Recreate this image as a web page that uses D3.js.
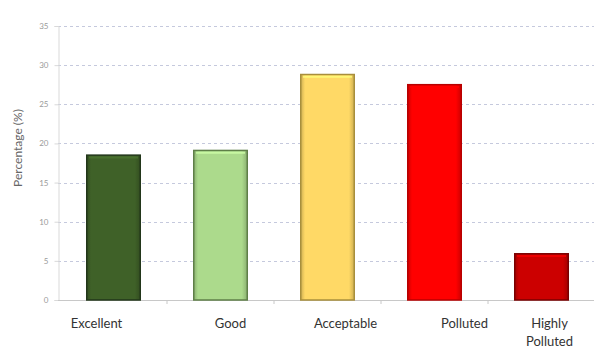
<!DOCTYPE html>
<html><head><meta charset="utf-8">
<script src="https://cdn.jsdelivr.net/npm/d3@7"></script>
<style>
html,body{margin:0;padding:0;background:#fff;}
svg{display:block;}
</style></head>
<body>
<svg id="c" width="594" height="348"></svg>
<script>
const categories = ["Excellent", "Good", "Acceptable", "Polluted", "Highly Polluted"];
const values = [18.6, 19.2, 28.9, 27.6, 6.0];
const yTicks = [0, 5, 10, 15, 20, 25, 30, 35];
const barColors = ["#3f6128", "#acda8c", "#ffd966", "#ff0000", "#cc0000"];
const edgeColors = ["#22361a", "#5f7f48", "#a88f3c", "#b80000", "#7a0000"];
// label horizontal shifts (layout)
const labelShift = [-17, 10, 18, 30, 8];

const svg = d3.select("#c");
const margin = {left: 58, right: 0, top: 26, bottom: 48};
const W = 594, H = 348;
const x = d3.scaleBand().domain(categories).range([60, 595]).paddingInner(0.486).paddingOuter(0.243);
const y = d3.scaleLinear().domain([0, 35]).range([300, 26]);

const defs = svg.append("defs");
barColors.forEach((c, i) => {
  const g = defs.append("linearGradient").attr("id", "g" + i).attr("x1", 0).attr("x2", 1).attr("y1", 0).attr("y2", 0);
  const dk = d3.color(c).darker(0.6).formatHex();
  g.append("stop").attr("offset", "0%").attr("stop-color", dk);
  g.append("stop").attr("offset", "8%").attr("stop-color", c);
  g.append("stop").attr("offset", "90%").attr("stop-color", c);
  g.append("stop").attr("offset", "100%").attr("stop-color", dk);
});

// gridlines
svg.append("g").selectAll("line").data(yTicks.filter(t => t > 0)).join("line")
  .attr("x1", 58).attr("x2", 594)
  .attr("y1", d => Math.round(y(d)) + 0.5).attr("y2", d => Math.round(y(d)) + 0.5)
  .attr("stroke", "#c5c9dd").attr("stroke-width", 1).attr("stroke-dasharray", "3,3");

// y axis
const yAxis = d3.axisLeft(y).tickValues(yTicks).tickSize(4).tickPadding(6);
const ya = svg.append("g").attr("transform", "translate(58.5,0)").call(yAxis);
ya.select(".domain").attr("stroke", "#d9d9d9");
ya.selectAll(".tick line").attr("stroke", "#d9d9d9");
ya.selectAll(".tick text").attr("fill", "#9a9a9a").style("font-family", "Lato, 'Open Sans', sans-serif").style("font-size", "8px");

// x baseline + ticks at category boundaries
svg.append("line").attr("x1", 58).attr("x2", 594).attr("y1", 300.5).attr("y2", 300.5).attr("stroke", "#c8c8c8");
const bounds = categories.slice(1).map(c => x(c) - x.step() * x.paddingInner() / 2);
svg.append("g").selectAll("line").data(bounds).join("line")
  .attr("x1", d => d).attr("x2", d => d).attr("y1", 300).attr("y2", 304)
  .attr("stroke", "#c8c8c8");

// bars
const bars = svg.append("g").selectAll("g").data(values).join("g");
bars.append("rect")
  .attr("x", (d, i) => x(categories[i]) + 0.75)
  .attr("y", d => y(d) + 0.75)
  .attr("width", x.bandwidth() - 1.5)
  .attr("height", d => y(0) - y(d) - 0.75)
  .attr("fill", (d, i) => "url(#g" + i + ")")
  .attr("stroke", (d, i) => edgeColors[i])
  .attr("stroke-width", 1.5);
bars.append("line")
  .attr("x1", (d, i) => x(categories[i]) + 3)
  .attr("x2", (d, i) => x(categories[i]) + x.bandwidth() - 3)
  .attr("y1", d => y(d) + 3).attr("y2", d => y(d) + 3)
  .attr("stroke", (d, i) => d3.color(barColors[i]).brighter(0.5).formatHex())
  .attr("stroke-width", 2).attr("opacity", 0.8);

// x labels
const lab = svg.append("g").selectAll("text").data(categories).join("text")
  .attr("x", (d, i) => x(d) + x.bandwidth() / 2 + labelShift[i])
  .attr("y", 328)
  .attr("text-anchor", "middle")
  .attr("fill", "#333")
  .style("font-family", "Lato, 'Open Sans', sans-serif")
  .style("font-size", "13px");
lab.each(function(d) {
  const parts = d === "Highly Polluted" ? ["Highly", "Polluted"] : [d];
  const t = d3.select(this);
  parts.forEach((p, k) => t.append("tspan").attr("x", t.attr("x")).attr("dy", k === 0 ? 0 : 18).text(p));
});

// y title
svg.append("text")
  .attr("transform", "translate(22,148) rotate(-90)")
  .attr("text-anchor", "middle")
  .attr("fill", "#666")
  .style("font-family", "Lato, 'Open Sans', sans-serif")
  .style("font-size", "12px")
  .text("Percentage (%)");
</script>
</body></html>
